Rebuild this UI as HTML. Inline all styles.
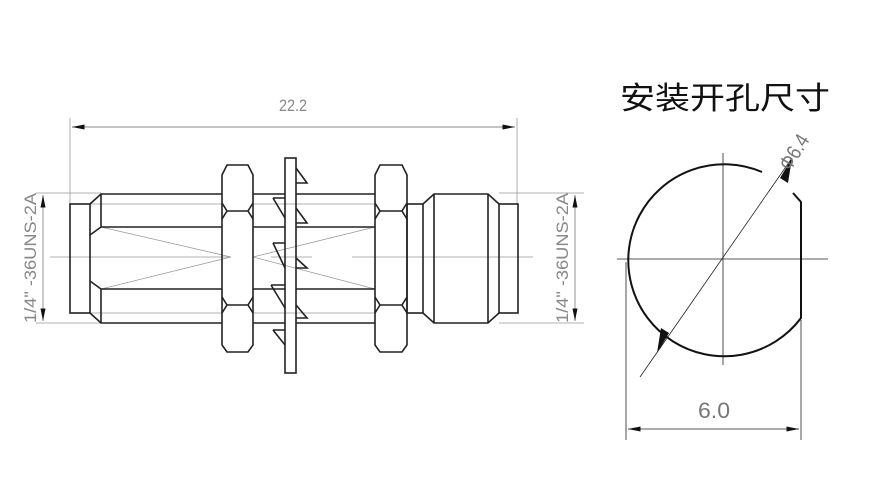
<!DOCTYPE html>
<html><head><meta charset="utf-8"><style>
html,body{margin:0;padding:0;background:#fff;width:884px;height:490px;overflow:hidden}
</style></head><body>
<svg width="884" height="490" viewBox="0 0 884 490" xmlns="http://www.w3.org/2000/svg">
<defs>
<marker id="ar" viewBox="0 0 10 4" refX="10" refY="2" markerWidth="14" markerHeight="5" markerUnits="userSpaceOnUse" orient="auto-start-reverse"><path d="M0,0 L10,2 L0,4z" fill="#111"/></marker>
</defs>
<g stroke="#999" stroke-width="0.8" fill="none">
<line x1="70" y1="118" x2="70" y2="204"/>
<line x1="517" y1="118" x2="517" y2="204"/>
<line x1="36" y1="193" x2="101" y2="193"/>
<line x1="36" y1="323" x2="101" y2="323"/>
<line x1="499" y1="193" x2="584" y2="193"/>
<line x1="499" y1="323" x2="584" y2="323"/>
<line x1="50" y1="257" x2="231" y2="257"/>
<line x1="271" y1="257" x2="312" y2="257"/>
<line x1="352" y1="257" x2="533" y2="257"/>
<line x1="90" y1="204" x2="222" y2="204"/>
<line x1="90" y1="313" x2="222" y2="313"/>
<line x1="253" y1="204" x2="375" y2="204"/>
<line x1="253" y1="313" x2="375" y2="313"/>
<line x1="101" y1="227" x2="231" y2="257"/>
<line x1="101" y1="289" x2="231" y2="257"/>
<line x1="375" y1="227" x2="253" y2="257"/>
<line x1="375" y1="289" x2="253" y2="257"/>
</g>
<g stroke="#888" stroke-width="0.9">
<line x1="72" y1="127" x2="515" y2="127" marker-start="url(#ar)" marker-end="url(#ar)"/>
<line x1="43" y1="195" x2="43" y2="321" marker-start="url(#ar)" marker-end="url(#ar)"/>
<line x1="575" y1="195" x2="575" y2="321" marker-start="url(#ar)" marker-end="url(#ar)"/>
</g>
<g fill="#888" font-family="'Liberation Sans',sans-serif" font-size="17">
<text x="279" y="111" textLength="28" lengthAdjust="spacingAndGlyphs">22.2</text>
<text transform="translate(36,258) rotate(-90)" x="-65" textLength="130" lengthAdjust="spacingAndGlyphs">1/4" -36UNS-2A</text>
<text transform="translate(568,258) rotate(-90)" x="-65" textLength="130" lengthAdjust="spacingAndGlyphs">1/4" -36UNS-2A</text>
</g>
<g stroke="#222" stroke-width="1.6" fill="none" stroke-linejoin="miter">
<rect x="70" y="204" width="20" height="109"/>
<path d="M90,204 L101,194 L222,194 M90,313 L101,323 L222,323 M101,194 L101,227 M101,289 L101,323 M90,235 L101,227 L222,227 M90,281 L101,289 L222,289"/>
<path d="M227,165 L248,165 L253,175 L253,345 L248,352 L227,352 L222,345 L222,175 Z"/>
<path d="M222,203 L227,211 L222,219 M227,211 L248,211 M253,203 L248,211 L253,219 M222,297 L227,305 L222,313 M227,305 L248,305 M253,297 L248,305 L253,313"/>
<path d="M253,194 L285,194 M253,227 L285,227 M253,289 L285,289 M253,323 L285,323"/>
<rect x="285" y="158" width="11" height="215"/>
<path d="M296,168 L307,183 L296,183 M296,208 L307,223 L296,223 M296,258 L307,268 L296,268 M296,305 L307,318 L296,318"/>
<path d="M273,198 L285,198 M273,198 L285,218 M273,243 L285,243 M273,243 L285,268 M271,285 L285,285 M271,285 L285,308 M273,330 L285,330 M273,330 L285,345"/>
<path d="M296,194 L375,194 M296,227 L375,227 M296,289 L375,289 M296,323 L375,323"/>
<path d="M380,165 L402,165 L407,175 L407,345 L402,352 L380,352 L375,345 L375,175 Z"/>
<path d="M375,203 L380,211 L375,219 M380,211 L402,211 M407,203 L402,211 L407,219 M375,297 L380,305 L375,313 M380,305 L402,305 M407,297 L402,305 L407,313"/>
<rect x="407" y="204" width="16" height="109"/>
<path d="M423,204 L434,194 L488,194 L499,204 M423,313 L434,323 L488,323 L499,313 M434,194 L434,323 M488,194 L488,323"/>
<rect x="499" y="204" width="19" height="109"/>
</g>
<text x="620" y="109" textLength="210" lengthAdjust="spacingAndGlyphs" font-family="'Liberation Sans','Noto Sans CJK SC',sans-serif" font-size="31" fill="#111">安装开孔尺寸</text>
<g stroke="#222" stroke-width="0.8" fill="none">
<line x1="617" y1="259" x2="828" y2="259"/>
<line x1="723" y1="153" x2="723" y2="365"/>
<line x1="626" y1="262" x2="626" y2="440"/>
<line x1="801" y1="320" x2="801" y2="440"/>
<line x1="640" y1="377" x2="792" y2="158"/>
</g>
<path d="M762,172 A96,96 0 1 0 801,318 L801,202 L793,193" stroke="#111" stroke-width="2" fill="none"/>
<path d="M792,158 L780,178 L788,183 Z M657,353 L669,333 L661,328 Z" fill="#111"/>
<line x1="628" y1="429" x2="799" y2="429" stroke="#222" stroke-width="0.8" marker-start="url(#ar)" marker-end="url(#ar)"/>
<text x="698" y="418" textLength="32" lengthAdjust="spacingAndGlyphs" font-family="'Liberation Sans',sans-serif" font-size="22" fill="#777">6.0</text>
<text transform="translate(790,172) rotate(-58)" textLength="38" lengthAdjust="spacingAndGlyphs" font-family="'Liberation Sans',sans-serif" font-size="21" fill="#777">Φ6.4</text>
</svg>
</body></html>
